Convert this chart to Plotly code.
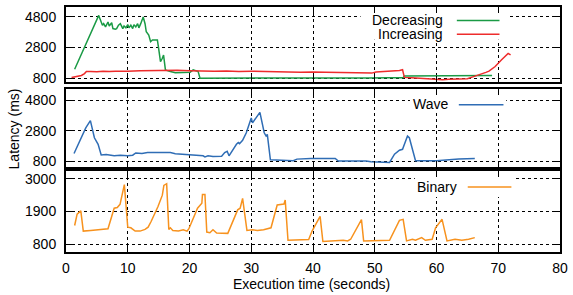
import plotly.graph_objects as go
from plotly.subplots import make_subplots

# ---------------- data ----------------
dec_t = [1.4, 5.3, 5.9, 6.1, 6.4, 6.8, 7.0, 7.4, 7.6, 8.0, 8.2, 8.5, 8.8, 9.0, 9.2, 9.4, 9.7,
         10.0, 10.2, 10.5, 10.8, 11.0, 11.3, 11.6, 11.8, 12.1, 12.5, 12.8, 13.0, 13.4, 13.7,
         14.0, 14.2, 14.8, 15.0, 15.3, 15.6, 15.8, 16.1, 16.4, 16.9, 17.7, 18.5, 19.3, 20.1,
         20.6, 21.2, 21.4, 21.7, 22.5, 25, 28, 31, 34, 37, 40, 43, 46, 49, 52, 54.6, 54.8,
         57, 60, 63, 66, 69.0]
dec_v = [1380, 4900, 4260, 4360, 4150, 4470, 4210, 4420, 4040, 4000, 4040, 4260, 4360, 4150,
         4040, 4210, 4090, 4300, 4090, 4260, 4040, 4300, 4150, 4360, 4090, 4360, 4800, 4360,
         3830, 3610, 3180, 3290, 3290, 3290, 2740, 1880, 2100, 2310, 1340, 1280, 1230, 1150,
         1170, 1170, 1190, 1340, 1230, 1230, 800, 800, 790, 780, 800, 790, 770, 780, 790, 800,
         810, 820, 830, 950, 960, 940, 950, 960, 970]

inc_t = [0.9, 2.5, 3.0, 3.3, 4, 5, 6, 7, 8, 9, 10, 12, 14, 16, 18, 20, 22, 24, 26, 28, 30,
         32, 34, 36, 38, 40, 42, 44, 46, 48, 49.5, 50.2, 52, 54, 54.5, 54.8, 56, 58, 60, 61,
         62, 64, 65, 66, 67, 68, 68.5, 69.5, 70.5, 71.6, 72.0]
inc_v = [850, 980, 1100, 1230, 1240, 1220, 1250, 1230, 1260, 1240, 1250, 1280, 1300, 1330,
         1310, 1290, 1260, 1250, 1270, 1240, 1260, 1230, 1220, 1200, 1190, 1210, 1180, 1170,
         1160, 1150, 1130, 1200, 1230, 1300, 1350, 850, 820, 780, 740, 700, 730, 720, 760,
         900, 1020, 1180, 1260, 1560, 1990, 2420, 2320]

wave_t = [1.3, 3.2, 3.95, 4.6, 5.2, 5.7, 6.5, 7.8, 8.8, 10.0, 10.8, 11.3, 12.3, 13.2, 14.5,
          16.1, 16.9, 17.7, 19.3, 20.4, 21.4, 22.2, 22.5, 23.0, 23.8, 25.2, 25.7, 26.1, 26.4,
          27.0, 27.6, 27.9, 28.1, 28.6, 29.2, 30.0, 30.2, 31.4, 32.1, 32.4, 32.6, 33.1, 33.7,
          35.3, 36.8, 37.4, 39.6, 43.6, 44.1, 48.6, 49.4, 52.4, 53.2, 54.0, 54.5, 55.3, 55.6,
          56.6, 60.0, 63.6, 66.2]
wave_v = [1300, 2990, 3475, 2340, 1910, 1210, 1230, 1150, 1190, 1150, 1190, 1340, 1300, 1360,
          1360, 1340, 1360, 1280, 1240, 1220, 1190, 1150, 1080, 1150, 1100, 1120, 1360, 1450,
          1150, 1580, 1910, 2020, 1950, 2170, 2670, 3645, 3320, 4020, 2670, 2455, 2560, 887,
          870, 870, 830, 930, 975, 975, 800, 800, 756, 712, 1257, 1520, 1580, 2450, 2340, 820,
          820, 930, 975]

bin_t = [1.4, 1.8, 2.4, 2.8, 4.0, 5.0, 6.0, 6.8, 7.8, 8.3, 8.75, 9.45, 10.0, 10.5, 11.2, 12.0,
         12.8, 13.3, 13.8, 14.9, 15.6, 15.85, 16.3, 16.65, 16.9, 17.3, 18.2, 19.0, 19.6, 19.9,
         21.3, 22.0, 22.1, 22.5, 22.8, 23.3, 23.8, 24.4, 26.2, 27.8, 28.2, 28.6, 29.3, 30.2,
         31.0, 32.0, 33.2, 34.2, 35.3, 35.5, 35.95, 39.3, 39.85, 41.15, 41.6, 42.8, 44.9, 45.6,
         46.1, 47.85, 48.2, 52.4, 54.0, 54.6, 55.15, 56.1, 56.6, 57.6, 58.2, 59.3, 59.85, 60.9,
         61.7, 63.0, 64.1, 65.2, 66.2]
bin_v = [1427, 1812, 1922, 1240, 1262, 1284, 1295, 1320, 2010, 2032, 2140, 2803, 1372, 1350,
         1240, 1240, 1295, 1372, 1570, 2065, 2450, 2780, 2836, 1295, 1350, 1262, 1240, 1284,
         1240, 1320, 2010, 2175, 2470, 2470, 1207, 1185, 1284, 1174, 1163, 1955, 2010, 2340,
         1262, 1284, 1262, 1284, 1350, 2120, 2150, 2285, 932, 954, 1240, 1735, 888, 910, 932,
         910, 965, 1625, 910, 932, 1603, 1636, 910, 965, 932, 1020, 932, 965, 1350, 1636, 910,
         965, 932, 965, 1020]

x_ticks = [0, 10, 20, 30, 40, 50, 60, 70, 80]
y_ticks_top = [800, 2800, 4800]
y_ticks_mid = [800, 2800, 4800]
y_ticks_bot = [800, 1900, 3000]

C_DEC = "#1a9a45"
C_INC = "#ee2c2c"
C_WAVE = "#2f6db5"
C_BIN = "#f7921e"

FONT = "Liberation Sans"

# ---------------- figure ----------------
fig = make_subplots(rows=3, cols=1, shared_xaxes=False, vertical_spacing=0.02)

fig.add_trace(go.Scatter(x=dec_t, y=dec_v, mode="lines", line=dict(color=C_DEC, width=1.5),
                         name="Decreasing"), row=1, col=1)
fig.add_trace(go.Scatter(x=inc_t, y=inc_v, mode="lines", line=dict(color=C_INC, width=1.5),
                         name="Increasing"), row=1, col=1)
fig.add_trace(go.Scatter(x=wave_t, y=wave_v, mode="lines", line=dict(color=C_WAVE, width=1.5),
                         name="Wave"), row=2, col=1)
fig.add_trace(go.Scatter(x=bin_t, y=bin_v, mode="lines", line=dict(color=C_BIN, width=1.5),
                         name="Binary"), row=3, col=1)

axis_common = dict(
    showline=True, linecolor="black", linewidth=2, mirror="ticks",
    ticks="inside", ticklen=6, tickwidth=1, tickcolor="black",
    showgrid=True, gridcolor="black", gridwidth=1, griddash="dot",
    zeroline=False, tickfont=dict(family=FONT, size=14, color="black"),
)

domains = [[0.692, 1.0], [0.346, 0.664], [0.0, 0.332]]
yranges = [[520, 5450], [395, 5537], [536, 3274]]
yticks = [y_ticks_top, y_ticks_mid, y_ticks_bot]

for i in range(3):
    n = "" if i == 0 else str(i + 1)
    fig.update_layout(**{
        "xaxis" + n: dict(axis_common, range=[0, 80], tickvals=x_ticks,
                          showticklabels=(i == 2), ticklabelstandoff=2),
        "yaxis" + n: dict(axis_common, range=yranges[i], tickvals=yticks[i],
                          domain=domains[i], ticklabelstandoff=5),
    })

# ---------------- legends (gnuplot style: text then sample) ----------------
def px2xp(px):
    return (px - 66) / 498.0

def py2yp(py):
    return (252 - py) / 247.0

legend_items = [
    ("Decreasing", C_DEC, 448, 18, 460, 503),
    ("Increasing", C_INC, 448, 32, 460, 503),
    ("Wave", C_WAVE, 453, 103, 462, 507),
    ("Binary", C_BIN, 462, 186, 471, 515),
]
legend_boxes = [
    ("x", "y", 47.7, 71.8, 3308, 5450),
    ("x2", "y2", 55.7, 71.3, 4082, 5537),
    ("x3", "y3", 56.5, 72.6, 2384, 3274),
]

shapes = []
for xr, yr, x0, x1, y0, y1 in legend_boxes:
    shapes.append(dict(type="rect", xref=xr, yref=yr, x0=x0, x1=x1, y0=y0, y1=y1,
                       fillcolor="white", line=dict(width=0), layer="between"))
annotations = []
for name, col, tx, ty, lx0, lx1 in legend_items:
    annotations.append(dict(text=name, xref="paper", yref="paper", x=px2xp(tx), y=py2yp(ty),
                            xanchor="right", yanchor="middle", showarrow=False,
                            font=dict(family=FONT, size=14, color="black")))
    shapes.append(dict(type="line", xref="paper", yref="paper", x0=px2xp(lx0), x1=px2xp(lx1),
                       y0=py2yp(ty + 0.5), y1=py2yp(ty + 0.5), line=dict(color=col, width=1.5)))

annotations.append(dict(text="Latency (ms)", xref="paper", yref="paper", x=px2xp(14),
                        y=py2yp(128), xanchor="center", yanchor="middle", textangle=-90,
                        showarrow=False, font=dict(family=FONT, size=14, color="black")))
annotations.append(dict(text="Execution time (seconds)", xref="paper", yref="paper",
                        x=px2xp(313), y=py2yp(284), xanchor="center", yanchor="middle",
                        showarrow=False, font=dict(family=FONT, size=14, color="black")))

fig.update_layout(
    width=573, height=295,
    margin=dict(l=66, r=9, t=5, b=43),
    paper_bgcolor="white", plot_bgcolor="white",
    showlegend=False,
    shapes=shapes, annotations=annotations,
    font=dict(family=FONT, size=14, color="black"),
)

fig.write_html("out.html", config={"displayModeBar": False},
               post_script="document.body.style.margin='0';document.body.style.overflow='hidden';")
